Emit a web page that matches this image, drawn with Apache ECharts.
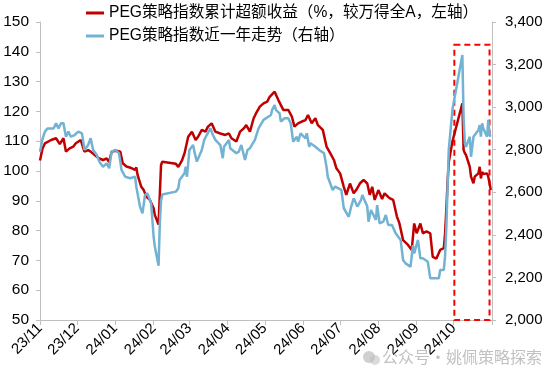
<!DOCTYPE html>
<html><head><meta charset="utf-8">
<script src="https://cdn.jsdelivr.net/npm/echarts@6/dist/echarts.min.js"></script>
<style>html,body{margin:0;padding:0;background:#fff}#c{width:550px;height:377px}</style>
</head><body><div id="c"></div>
<script>
const redName = 'PEG策略指数累计超额收益（%，较万得全A，左轴）';
const blueName = 'PEG策略指数近一年走势（右轴）';

const redDates = ['2023-11-01','2023-11-03','2023-11-05','2023-11-10','2023-11-14','2023-11-17','2023-11-20','2023-11-21','2023-11-22','2023-11-25','2023-11-28','2023-11-30',
'2023-12-04','2023-12-07','2023-12-10','2023-12-12','2023-12-17','2023-12-19','2023-12-22','2023-12-25','2023-12-27','2023-12-29',
'2024-01-02','2024-01-05','2024-01-07','2024-01-10','2024-01-14','2024-01-17','2024-01-18','2024-01-19','2024-01-22','2024-01-24','2024-01-26','2024-01-29',
'2024-02-01','2024-02-02','2024-02-05','2024-02-06','2024-02-07','2024-02-08','2024-02-19','2024-02-21','2024-02-24','2024-02-26','2024-02-29',
'2024-03-03','2024-03-06','2024-03-08','2024-03-11','2024-03-14','2024-03-16','2024-03-19','2024-03-22','2024-03-26','2024-03-30',
'2024-04-02','2024-04-04','2024-04-08','2024-04-11','2024-04-14','2024-04-16','2024-04-19','2024-04-22','2024-04-24','2024-04-27','2024-04-30',
'2024-05-03','2024-05-05','2024-05-09','2024-05-12','2024-05-16','2024-05-20','2024-05-23','2024-05-25','2024-05-28','2024-05-31',
'2024-06-03','2024-06-05','2024-06-08','2024-06-11','2024-06-13','2024-06-17','2024-06-20','2024-06-23','2024-06-26','2024-06-28',
'2024-07-01','2024-07-04','2024-07-06','2024-07-09','2024-07-12','2024-07-14','2024-07-17','2024-07-20','2024-07-23','2024-07-25','2024-07-27','2024-07-29',
'2024-08-01','2024-08-04','2024-08-06','2024-08-10','2024-08-13','2024-08-16','2024-08-18','2024-08-21','2024-08-25','2024-08-28','2024-08-30',
'2024-09-01','2024-09-04','2024-09-06','2024-09-09','2024-09-12','2024-09-14','2024-09-17','2024-09-20','2024-09-23','2024-09-24','2024-09-25','2024-09-26','2024-09-27','2024-09-30',
'2024-10-08','2024-10-09','2024-10-10','2024-10-11','2024-10-14','2024-10-15','2024-10-16','2024-10-17','2024-10-18','2024-10-21','2024-10-22','2024-10-23','2024-10-24','2024-10-25','2024-10-28','2024-10-29','2024-10-30','2024-10-31'];
const redValues = [103.5,107.5,109.3,110.4,111,109,111,108.7,106.5,107.6,108.2,109.3,
110.4,106.5,107,106.5,104.8,104.2,103.7,104.2,103,106.5,
106.8,106.5,102.6,101.5,101,100.4,101.2,98.7,94.7,93.6,91.4,90.3,
87.5,85.2,82,92,102,103.1,102.4,101.4,103.6,105.9,111.5,
113.2,110.4,111.5,113.8,113.2,114.9,116,113.2,112.6,112.1,
112.6,111,109.9,113.2,114.3,115.4,113.2,117.7,119.4,121.6,122.7,
123.3,124.9,126.6,123.8,120.5,120.5,118.2,114.9,116,116.6,
117.1,118.8,116,117.7,115.4,113.8,108.2,106,103.7,100.9,
99.2,94.7,92,95.8,92.5,93.6,95.8,97,95.8,92,94.7,90.3,
93.6,90.6,92.5,90.9,90.3,84.7,82.5,76.8,75.2,73.5,82.4,
79.1,82.4,79.1,79.7,79.1,71.2,70.6,73.5,74.1,79,87,96,103,110,
122.7,107,106,105.3,101.4,98.1,97,95.9,98.1,99.2,101.4,97.5,99.7,99,99.2,98,96,93.6];

const blueDates = ['2023-11-01','2023-11-03','2023-11-05','2023-11-07','2023-11-12','2023-11-14','2023-11-16','2023-11-18','2023-11-20','2023-11-22','2023-11-24','2023-11-26','2023-11-29',
'2023-12-02','2023-12-05','2023-12-07','2023-12-10','2023-12-12','2023-12-14','2023-12-17','2023-12-19','2023-12-22','2023-12-25','2023-12-27','2023-12-29',
'2024-01-01','2024-01-04','2024-01-06','2024-01-09','2024-01-13','2024-01-17','2024-01-18','2024-01-21','2024-01-23','2024-01-25','2024-01-27','2024-01-30',
'2024-02-01','2024-02-02','2024-02-05','2024-02-06','2024-02-07','2024-02-08','2024-02-19','2024-02-21','2024-02-22','2024-02-26','2024-02-27','2024-02-28',
'2024-03-01','2024-03-04','2024-03-05','2024-03-07','2024-03-11','2024-03-13','2024-03-15','2024-03-18','2024-03-20','2024-03-22','2024-03-26','2024-03-28','2024-03-29',
'2024-04-02','2024-04-03','2024-04-08','2024-04-10','2024-04-12','2024-04-15','2024-04-17','2024-04-19','2024-04-23','2024-04-26','2024-04-30',
'2024-05-06','2024-05-07','2024-05-09','2024-05-10','2024-05-13','2024-05-14','2024-05-17','2024-05-20','2024-05-22','2024-05-24','2024-05-27','2024-05-28','2024-05-30',
'2024-06-03','2024-06-04','2024-06-06','2024-06-07','2024-06-11','2024-06-14','2024-06-18','2024-06-20','2024-06-21','2024-06-25','2024-06-27','2024-06-28',
'2024-07-02','2024-07-04','2024-07-08','2024-07-10','2024-07-12','2024-07-15','2024-07-18','2024-07-19','2024-07-23','2024-07-24','2024-07-26','2024-07-30','2024-07-31',
'2024-08-02','2024-08-05','2024-08-07','2024-08-09','2024-08-12','2024-08-15','2024-08-19','2024-08-21','2024-08-23','2024-08-27','2024-08-29','2024-08-30',
'2024-09-02','2024-09-04','2024-09-06','2024-09-10','2024-09-12','2024-09-13','2024-09-19','2024-09-20','2024-09-23','2024-09-24','2024-09-25','2024-09-26','2024-09-27','2024-09-30',
'2024-10-08','2024-10-09','2024-10-10','2024-10-11','2024-10-14','2024-10-15','2024-10-17','2024-10-18','2024-10-21','2024-10-22','2024-10-23','2024-10-24','2024-10-25','2024-10-28','2024-10-29','2024-10-30','2024-10-31'];
const blueValues = [2790,2850,2885,2900,2900,2924,2900,2924,2924,2861,2885,2861,2869,
2885,2877,2799,2822,2854,2799,2775,2744,2720,2736,2713,2791,
2799,2783,2705,2673,2666,2673,2626,2532,2501,2587,2595,2548,
2391,2344,2255,2450,2560,2590,2603,2619,2658,2689,2720,2673,
2799,2822,2791,2744,2799,2846,2869,2900,2869,2846,2822,2760,2814,
2846,2807,2783,2791,2822,2752,2799,2807,2846,2900,2940,
2963,2987,3010,2987,2971,2932,2948,2948,2924,2838,2861,2838,2877,
2853,2877,2814,2830,2814,2799,2783,2720,2673,2611,2627,2619,
2611,2525,2485,2533,2572,2533,2564,2587,2533,2462,2517,2470,2540,
2454,2462,2493,2446,2446,2407,2376,2282,2266,2250,2352,2313,
2376,2290,2290,2274,2196,2188,2196,2235,2235,2300,2430,2620,2800,2990,
3245,2950,2830,2814,2861,2767,2861,2861,2893,2916,2861,2924,2900,2861,2940,2870,2861];

const leftMin = 50, leftMax = 150, leftStep = 10;
const rightMin = 2000, rightMax = 3400, rightStep = 200;
const axisStart = '2023-11-01', axisEnd = '2024-11-01';
const boxStart = '2024-10-01 12:00:00', boxEnd = '2024-10-30 00:00:00', boxTop = 142.4;
const watermark = '公众号·姚佩策略探索';

function pd(s){ const p = s.split(/[- :]/).map(Number); return new Date(p[0], p[1]-1, p[2], p[3]||0, p[4]||0).getTime(); }
const FONT = '"Liberation Sans", Arial, "Noto Sans CJK SC", sans-serif';
const DAY = 86400000;

const chart = echarts.init(document.getElementById('c'), null, {renderer:'canvas'});
chart.setOption({
  animation: false,
  backgroundColor: '#fff',
  textStyle: {fontFamily: FONT},
  grid: {left: 40, right: 58, top: 22, bottom: 57, containLabel: false},
  legend: {
    orient: 'vertical', left: 81, top: 0, itemWidth: 18, itemHeight: 3, itemGap: 7, icon: 'rect',
    textStyle: {fontSize: 15.6, lineHeight: 16, color: '#000', fontFamily: FONT},
    data: [redName, blueName]
  },
  xAxis: {
    type: 'time', min: pd(axisStart), max: pd(axisEnd), splitNumber: 12,
    minInterval: 28*DAY, maxInterval: 31*DAY,
    axisLine: {lineStyle: {color: '#BFBFBF', width: 1}},
    axisTick: {show: true, length: 5, lineStyle: {color: '#BFBFBF'}},
    splitLine: {show: false},
    axisLabel: {
      rotate: 45, margin: 6, fontSize: 15, color: '#000', fontFamily: FONT, showMaxLabel: false,
      formatter: function(v){ const d = new Date(v); if (v >= pd(axisEnd) - DAY) return ''; return String(d.getFullYear()).slice(2) + '/' + String(d.getMonth()+1).padStart(2,'0'); }
    }
  },
  yAxis: [{
    type: 'value', min: leftMin, max: leftMax, interval: leftStep, position: 'left',
    axisLine: {show: true, lineStyle: {color: '#BFBFBF'}},
    axisTick: {show: true, length: 4, lineStyle: {color: '#BFBFBF'}},
    splitLine: {show: false},
    axisLabel: {fontSize: 15.5, color: '#000', margin: 11, fontFamily: FONT}
  }, {
    type: 'value', min: rightMin, max: rightMax, interval: rightStep, position: 'right',
    axisLine: {show: true, lineStyle: {color: '#BFBFBF'}},
    axisTick: {show: true, length: 4, lineStyle: {color: '#BFBFBF'}},
    splitLine: {show: false},
    axisLabel: {fontSize: 15, color: '#000', margin: 13, fontFamily: FONT,
      formatter: v => v.toLocaleString('en-US')}
  }],
  series: [{
    name: redName, type: 'line', yAxisIndex: 0, showSymbol: false, symbol: 'none',
    lineStyle: {color: '#C00000', width: 2.5}, itemStyle: {color: '#C00000'},
    data: redDates.map((d,i) => [pd(d), redValues[i]]),
    markArea: {
      silent: true,
      itemStyle: {color: 'rgba(0,0,0,0)', borderColor: '#FF0000', borderWidth: 2, borderType: [6,4]},
      data: [[{xAxis: pd(boxStart), yAxis: boxTop}, {xAxis: pd(boxEnd), yAxis: leftMin}]]
    }
  }, {
    name: blueName, type: 'line', yAxisIndex: 1, showSymbol: false, symbol: 'none',
    lineStyle: {color: '#72B2D2', width: 2.5}, itemStyle: {color: '#72B2D2'},
    data: blueDates.map((d,i) => [pd(d), blueValues[i]])
  }],
  graphic: [
    {type: 'circle', shape: {cx: 369, cy: 357, r: 6}, style: {fill: 'rgba(170,170,170,0.55)'}, z: 100},
    {type: 'circle', shape: {cx: 375, cy: 360, r: 5}, style: {fill: 'rgba(190,190,190,0.55)'}, z: 100},
    {type: 'text', left: 382, top: 349, z: 100,
      style: {text: watermark, fontSize: 16, fill: 'rgba(150,150,150,0.6)', fontFamily: '"Noto Sans CJK SC", sans-serif'}}
  ]
});
</script></body></html>
